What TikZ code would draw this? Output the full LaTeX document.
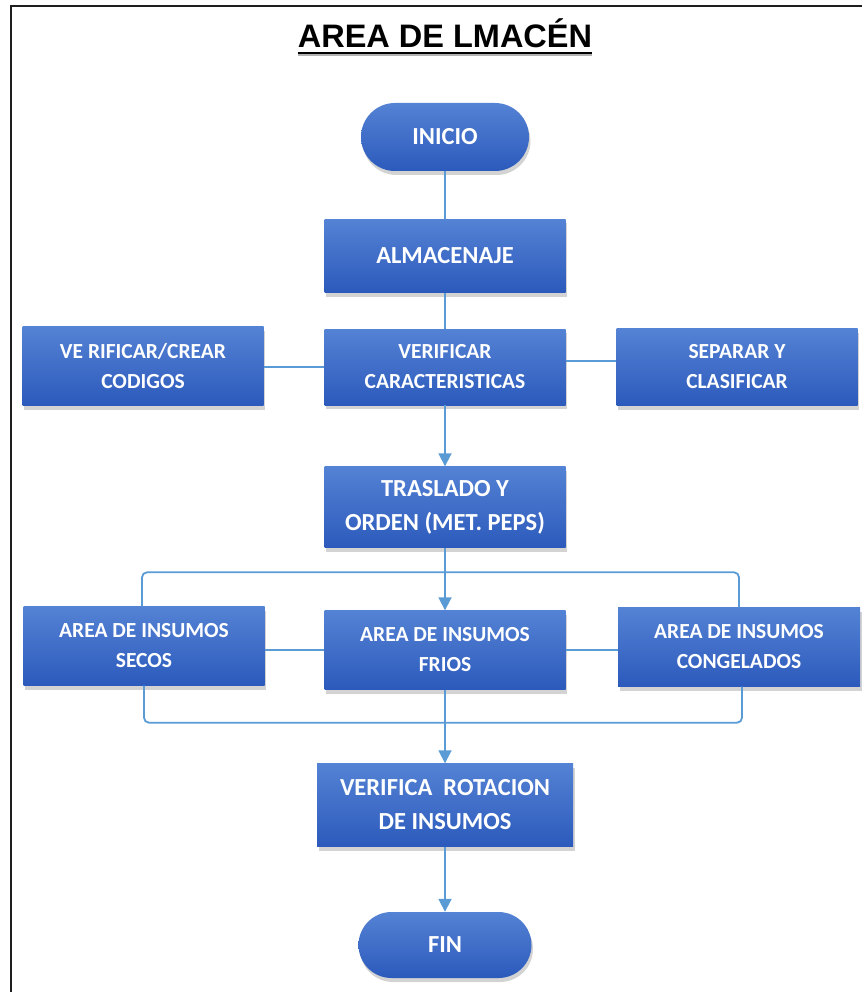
\documentclass[tikz,border=0pt]{standalone}
\usepackage{fontspec}
\setmainfont{Carlito}
\newfontfamily\titlefont{Liberation Sans}
\usetikzlibrary{arrows.meta,shadows}
\definecolor{boxtop}{RGB}{84,130,212}
\definecolor{boxbot}{RGB}{44,90,188}
\definecolor{link}{RGB}{91,155,213}
\definecolor{frame}{RGB}{30,30,30}

\begin{document}
\begin{tikzpicture}[x=1pt,y=-1pt,
  box/.style={rectangle, top color=boxtop, bottom color=boxbot, draw=none,
    text=white, font=\bfseries\fontsize{21.5}{30}\selectfont, align=center,
    inner sep=0pt, minimum width=241pt, minimum height=78pt,
    drop shadow={opacity=0.35, shadow xshift=1.5pt, shadow yshift=-4pt}},
  bigtext/.style={font=\bfseries\fontsize{24.5}{34}\selectfont},
  terminal/.style={box, bigtext, rounded corners=34pt, minimum height=68pt},
  link/.style={draw=link, line width=1.8pt},
  flow/.style={link, -{Triangle[width=13pt,length=13pt]}}
]
\useasboundingbox (0,0) rectangle (862,992);

% page frame (top and left edges)
\draw[frame, line width=2pt] (862,6.5) -- (10.5,6.5) -- (10.5,992);

% heading
\node[font=\titlefont\bfseries\fontsize{32.5}{38}\selectfont, inner sep=0pt, anchor=base]
  (title) at (445,48) {AREA DE LMACÉN};
\draw[gray!60, line width=1.5pt] ([yshift=-7pt]title.base west) -- ([yshift=-7pt]title.base east);
\draw[black, line width=2.2pt] ([yshift=-5pt]title.base west) -- ([yshift=-5pt]title.base east);

% process steps
\node[terminal, minimum width=168pt] (inicio) at (445,137) {INICIO};
\node[box, bigtext, minimum height=73pt] (alm) at (445,256) {ALMACENAJE};
\node[box, minimum height=79pt] (codigos) at (143,366) {VE RIFICAR/CREAR\\CODIGOS};
\node[box, minimum height=76pt] (caract) at (445,367) {VERIFICAR\\CARACTERISTICAS};
\node[box, minimum height=77pt] (separar) at (737,367) {SEPARAR Y\\CLASIFICAR};
\node[box, bigtext, minimum height=81pt] (traslado) at (445,507) {TRASLADO Y\\ORDEN (MET. PEPS)};
\node[box, minimum height=79pt] (secos) at (144,646) {AREA DE INSUMOS\\SECOS};
\node[box, minimum height=79pt] (frios) at (445,650) {AREA DE INSUMOS\\FRIOS};
\node[box, minimum height=79pt, minimum width=242pt] (cong) at (739,647) {AREA DE INSUMOS\\CONGELADOS};
\node[box, bigtext, minimum width=256pt, minimum height=83pt] (rot) at (445,805) {VERIFICA\ \ ROTACION\\DE INSUMOS};
\node[terminal, minimum width=173pt, minimum height=66pt, rounded corners=33pt] (fin) at (445,945) {FIN};

% connectors
\draw[link] (inicio) -- (alm);
\draw[link] (alm) -- (caract);
\draw[link] (caract.west) -- (caract.west -| codigos.east);
\draw[link] ([yshift=6pt]caract.east) -- ([yshift=6pt]caract.east -| separar.west);
\draw[flow] (caract) -- (traslado);
\draw[flow] (traslado) -- (frios);
\draw[link, rounded corners=5pt] ([xshift=-2pt]secos.north) -- ++(0,-34) -| (cong.north);
\draw[link, rounded corners=5pt] (secos.south) -- ++(0,37) -| ([xshift=3pt]cong.south);
\draw[link] (frios.west) -- (frios.west -| secos.east);
\draw[link] (frios.east) -- (frios.east -| cong.west);
\draw[flow] (frios) -- (rot);
\draw[flow] (rot) -- (fin);
\end{tikzpicture}
\end{document}
